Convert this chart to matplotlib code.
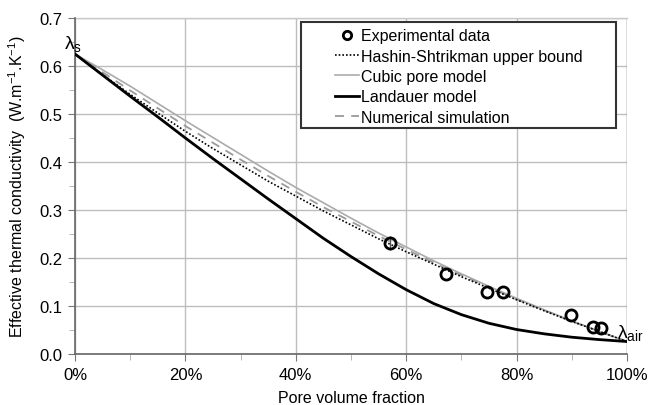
import matplotlib
matplotlib.use("Agg")
import matplotlib.pyplot as plt
from matplotlib.patches import Rectangle
from matplotlib.ticker import MultipleLocator, FuncFormatter

plt.rcParams['font.family'] = ['Liberation Sans', 'DejaVu Sans']

# Pore volume fraction grid for the model curves
phi = [0.00, 0.05, 0.10, 0.15, 0.20, 0.25, 0.30, 0.35, 0.40, 0.45, 0.50,
       0.55, 0.60, 0.65, 0.70, 0.75, 0.80, 0.85, 0.90, 0.95, 1.00]

hashin_shtrikman = [0.625, 0.582, 0.541, 0.502, 0.464, 0.428, 0.394, 0.360, 0.329, 0.298, 0.269,
                    0.240, 0.213, 0.187, 0.161, 0.137, 0.113, 0.090, 0.068, 0.047, 0.026]
cubic_pore = [0.625, 0.592, 0.558, 0.522, 0.486, 0.451, 0.416, 0.381, 0.347, 0.315, 0.283,
              0.252, 0.223, 0.194, 0.167, 0.141, 0.116, 0.092, 0.069, 0.047, 0.026]
landauer = [0.625, 0.581, 0.537, 0.494, 0.450, 0.407, 0.365, 0.323, 0.282, 0.241, 0.203,
            0.167, 0.134, 0.105, 0.082, 0.064, 0.051, 0.042, 0.035, 0.030, 0.026]
numerical = [0.625, 0.587, 0.549, 0.512, 0.475, 0.440, 0.405, 0.371, 0.338, 0.306, 0.276,
             0.246, 0.218, 0.190, 0.164, 0.139, 0.114, 0.091, 0.068, 0.047, 0.026]

# Measured samples
exp_phi = [0.571, 0.672, 0.746, 0.775, 0.898, 0.938, 0.952]
exp_k = [0.231, 0.167, 0.130, 0.129, 0.082, 0.057, 0.054]
exp_err = [0.015, 0.0, 0.0, 0.0, 0.0, 0.0, 0.0]

x_ticks = [0.0, 0.2, 0.4, 0.6, 0.8, 1.0]
y_ticks = [0.0, 0.1, 0.2, 0.3, 0.4, 0.5, 0.6, 0.7]

fig = plt.figure(figsize=(6.48, 4.06), dpi=100)
ax = fig.add_axes([0.1157, 0.1256, 0.8519, 0.8276])

ax.plot(phi, hashin_shtrikman, color='black', linestyle=(0, (1, 1.2)), lw=1.2,
        label='Hashin-Shtrikman upper bound', zorder=4)
ax.plot(phi, cubic_pore, color='#ababab', lw=1.2, label='Cubic pore model', zorder=2)
ax.plot(phi, landauer, color='black', lw=2.0, label='Landauer model', zorder=3)
ax.plot(phi, numerical, color='#9a9a9a', lw=1.3, linestyle=(0, (5, 4)),
        label='Numerical simulation', zorder=2)
ax.errorbar(exp_phi, exp_k, yerr=exp_err, fmt='none', ecolor='#555555',
            elinewidth=1, capsize=0, zorder=5)
ax.plot(exp_phi, exp_k, 'o', mfc='none', mec='black', mew=2.0, ms=8, zorder=5,
        label='Experimental data')

ax.set_xlim(0, 1)
ax.set_ylim(0, 0.7)
ax.set_xticks(x_ticks)
ax.set_yticks(y_ticks)
ax.xaxis.set_minor_locator(MultipleLocator(0.1))
ax.yaxis.set_minor_locator(MultipleLocator(0.05))
ax.xaxis.set_major_formatter(FuncFormatter(lambda v, p: f"{v*100:.0f}%"))
ax.yaxis.set_major_formatter(FuncFormatter(lambda v, p: f"{v:.1f}"))
ax.tick_params(axis='both', which='major', labelsize=12, length=5, color='#777777', pad=4)
ax.tick_params(axis='both', which='minor', length=4, color='#aaaaaa')
ax.grid(True, which='major', color='#bdbdbd', lw=1.0)
ax.set_axisbelow(True)
for side in ['top', 'right']:
    ax.spines[side].set_visible(False)
ax.axvline(1.0, color='#888888', lw=1.0, zorder=1)
ax.axhline(0.7, color='#c8c8c8', lw=1.0, zorder=1, clip_on=False)
for side in ['left', 'bottom']:
    ax.spines[side].set_color('#666666')
    ax.spines[side].set_linewidth(1.2)

ax.set_xlabel('Pore volume fraction', fontsize=11.5, labelpad=6)
ax.set_ylabel(r'Effective thermal conductivity  (W.m$\mathregular{^{-1}}$.K$\mathregular{^{-1}}$)',
              fontsize=11.5, labelpad=8)

ax.text(-0.004, 0.648, r'$\mathregular{\lambda_s}$', fontsize=14, ha='center', va='center')
ax.text(0.982, 0.045, r'$\mathregular{\lambda_{air}}$', fontsize=14, ha='left', va='center')

# Legend box
ax.add_patch(Rectangle((0.409, 0.673), 0.571, 0.315, transform=ax.transAxes,
                       facecolor='white', edgecolor='#333333', lw=1.5, zorder=6,
                       clip_on=False))

handles, labels = ax.get_legend_handles_labels()
order = [4, 0, 1, 2, 3]
leg = ax.legend([handles[i] for i in order], [labels[i] for i in order],
                loc='upper left', bbox_to_anchor=(0.471, 0.969), fontsize=11.5,
                frameon=False, handlelength=1.5, handletextpad=0.15,
                borderpad=0, labelspacing=0.33, borderaxespad=0, markerscale=0.75)
leg.set_zorder(7)

fig.savefig('out.png', dpi=100)
